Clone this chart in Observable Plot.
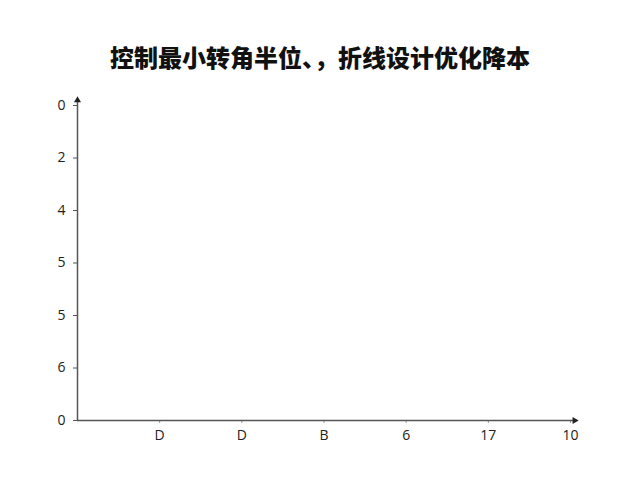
<!DOCTYPE html>
<html>
<head>
<meta charset="utf-8">
<script src="https://cdn.jsdelivr.net/npm/d3@7"></script>
<script src="https://cdn.jsdelivr.net/npm/@observablehq/plot@0.6"></script>
<style>
  html, body { margin: 0; padding: 0; background: #fff; }
  #title { height: 90px; line-height: 1; padding-top: 45px; box-sizing: border-box;
    text-align: center; font-family: "Noto Sans CJK SC", sans-serif; font-weight: 900;
    font-size: 24px; color: #111; }
  #chart svg { display: block; }
</style>
</head>
<body>
<div id="title">控制最小转角半位、，折线设计优化降本</div>
<div id="chart"></div>
<script>
const title = "控制最小转角半位、，折线设计优化降本";
const yLabels = ["0", "2", "4", "5", "5", "6", "0"];   // top to bottom
const xLabels = ["D", "D", "B", "6", "17", "10"];      // left to right, after origin

const yMax = yLabels.length - 1;
const xMax = xLabels.length;
const ext = 0.1;

const axisColor = "#555";
const textColor = "#222";

const chart = Plot.plot({
  width: 640,
  height: 390,
  marginLeft: 77,
  marginRight: 70,
  marginTop: 15,
  marginBottom: 60,
  style: { fontFamily: "'Open Sans', sans-serif", fontSize: "14px", color: textColor, background: "#fff" },
  x: { domain: [0, xMax] },
  y: { domain: [0, yMax], reverse: true },
  marks: [
    Plot.axisY(d3.range(yLabels.length), {
      anchor: "left", tickFormat: i => yLabels[i], tickSize: 4, tickPadding: 8,
      stroke: axisColor, fill: textColor, fontSize: 14, label: null
    }),
    Plot.axisX(d3.range(1, xMax + 1), {
      anchor: "bottom", tickFormat: i => xLabels[i - 1], tickSize: 3, tickPadding: 7,
      stroke: "#999", fill: textColor, fontSize: 14, label: null
    }),
    Plot.ruleX([0], { y1: -ext, y2: yMax, stroke: axisColor, strokeWidth: 1.5, clip: false }),
    Plot.ruleY([yMax], { x1: 0, x2: xMax + ext / 2, stroke: axisColor, strokeWidth: 1.5, clip: false }),
    Plot.dot([{ x: 0, y: -ext }], { x: "x", y: "y", symbol: "triangle", r: 2.6, fill: "#222", stroke: null }),
    Plot.dot([{ x: xMax + ext / 2, y: yMax }], { x: "x", y: "y", symbol: "triangle", rotate: 90, r: 2.6, fill: "#222", stroke: null })
  ]
});
document.getElementById("chart").appendChild(chart);
</script>
</body>
</html>
